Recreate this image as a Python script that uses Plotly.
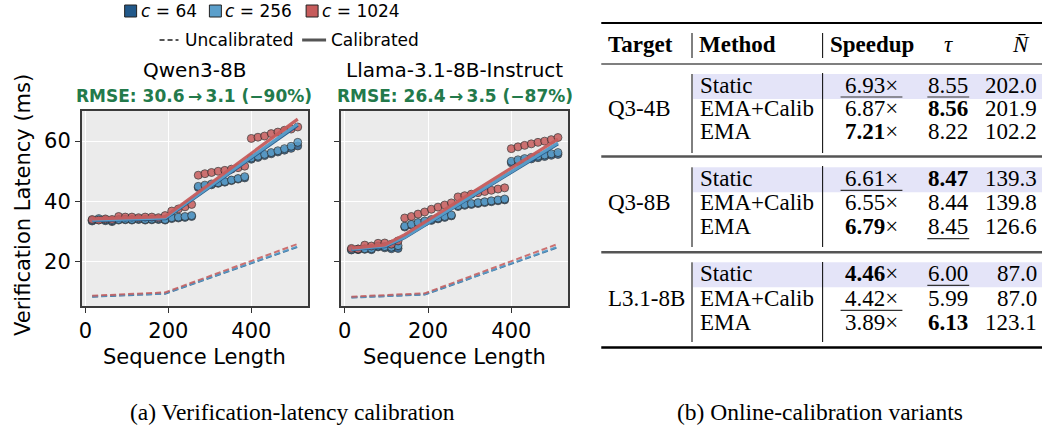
import plotly.graph_objects as go

# ---------------- data ----------------
seq_len = [16, 32, 48, 64, 80, 96, 112, 128, 144, 160, 176, 192, 208, 224, 240, 256,
           272, 288, 304, 320, 336, 352, 368, 384, 400, 416, 432, 448, 464, 480, 496, 512]

qwen_c64 = [33.5, 33.9, 33.6, 33.3, 33.8, 33.9, 33.8, 34.0, 33.8, 33.9, 34.0, 33.8, 34.3, 34.5, 34.7, 35.0,
            44.6, 45.0, 45.5, 46.0, 46.4, 46.9, 47.4, 47.8, 54.0, 54.6, 55.2, 55.8, 56.4, 57.0, 57.6, 58.4]
qwen_c256 = [33.7, 34.3, 33.9, 33.6, 34.0, 34.1, 34.0, 34.2, 34.0, 34.1, 34.2, 34.0, 34.6, 34.8, 35.0, 35.3,
             45.0, 45.4, 45.8, 46.2, 46.6, 47.1, 47.6, 48.2, 54.4, 55.0, 55.6, 56.2, 56.8, 57.5, 58.3, 59.6]
qwen_c1024 = [34.0, 33.8, 34.2, 34.0, 35.0, 34.8, 34.8, 34.6, 34.8, 34.8, 34.6, 35.3, 36.8, 37.5, 38.2, 39.0,
              48.7, 49.2, 49.6, 50.0, 50.3, 50.7, 51.2, 51.7, 60.9, 61.3, 61.7, 62.5, 63.0, 63.6, 64.0, 64.7]

llama_c64 = [23.9, 24.0, 24.1, 24.0, 24.9, 24.6, 24.3, 24.4, 31.5, 32.1, 32.7, 33.2, 33.7, 34.2, 34.7, 35.2,
             38.3, 38.7, 39.0, 39.3, 39.6, 39.9, 40.2, 40.5, 52.8, 53.3, 53.7, 54.1, 54.5, 54.9, 55.3, 55.6]
llama_c256 = [24.0, 24.2, 24.3, 24.3, 25.2, 25.0, 24.8, 25.3, 31.8, 32.4, 33.0, 33.5, 34.0, 34.5, 35.0, 35.5,
              38.6, 39.0, 39.3, 39.6, 39.9, 40.2, 40.5, 40.8, 53.3, 53.8, 54.2, 54.6, 55.0, 55.4, 55.8, 56.2]
llama_c1024 = [24.4, 24.2, 25.5, 25.2, 26.1, 26.2, 25.8, 26.9, 34.5, 35.0, 35.8, 36.5, 37.4, 38.1, 38.8, 39.5,
               41.5, 41.9, 42.4, 42.9, 43.3, 43.7, 44.1, 44.5, 57.5, 58.1, 58.6, 59.1, 59.6, 60.0, 60.5, 61.2]

# model curves (knots)
qwen_knots = [16, 192, 512]
qwen_cal = {64: [33.6, 34.3, 65.3], 256: [33.8, 34.5, 65.7], 1024: [34.2, 34.9, 67.3]}
qwen_uncal = {64: [8.4, 9.4, 24.9], 256: [8.5, 9.5, 25.1], 1024: [8.7, 9.8, 25.9]}
llama_cal_knots = [16, 96, 144, 512]
llama_cal = {64: [24.0, 25.0, 28.0, 59.1], 256: [24.2, 25.2, 28.2, 59.4], 1024: [24.5, 25.6, 29.0, 60.7]}
llama_uncal_knots = [16, 192, 512]
llama_uncal = {64: [8.1, 9.1, 24.8], 256: [8.2, 9.2, 25.0], 1024: [8.4, 9.5, 25.9]}

c_labels = [64, 256, 1024]
model_titles = ["Qwen3-8B", "Llama-3.1-8B-Instruct"]
rmse_titles = ["RMSE: 30.6\u2009\u2192\u20093.1 (\u221290%)", "RMSE: 26.4\u2009\u2192\u20093.5 (\u221287%)"]
x_ticks = [0, 200, 400]
y_ticks = [20, 40, 60]

# table
targets = ["Q3-4B", "Q3-8B", "L3.1-8B"]
methods = ["Static", "EMA+Calib", "EMA"]
speedup = [[6.93, 6.87, 7.21], [6.61, 6.55, 6.79], [4.46, 4.42, 3.89]]
tau = [[8.55, 8.56, 8.22], [8.47, 8.44, 8.45], [6.00, 5.99, 6.13]]
nbar = [[202.0, 201.9, 102.2], [139.3, 139.8, 126.6], [87.0, 87.0, 123.1]]

# ---------------- style ----------------
W, H = 1042, 433
colors = {64: "#22598a", 256: "#5b9fcb", 1024: "#c75c5c"}
GREEN = "#237a4b"
SANS = "DejaVu Sans"
SERIF = "Liberation Serif"


def px(x):
    return x / W


def py(y):
    return 1 - y / H


fig = go.Figure()

panels = [
    ("x", "y", [qwen_c64, qwen_c256, qwen_c1024], qwen_knots, qwen_cal, qwen_knots, qwen_uncal),
    ("x2", "y2", [llama_c64, llama_c256, llama_c1024], llama_cal_knots, llama_cal, llama_uncal_knots, llama_uncal),
]

for xa, ya, pts, ck, cal, uk, uncal in panels:
    for c, yv in zip(c_labels, pts):
        fig.add_trace(go.Scatter(
            x=seq_len, y=yv, mode="markers", xaxis=xa, yaxis=ya, showlegend=False,
            marker=dict(size=8, color=colors[c], opacity=0.85,
                        line=dict(color="#2b2b2b", width=0.8))))
    for c in c_labels:
        fig.add_trace(go.Scatter(
            x=uk, y=uncal[c], mode="lines", xaxis=xa, yaxis=ya, showlegend=False,
            line=dict(color=colors[c], width=2, dash="6px,3px"), opacity=0.85))
    for c in c_labels:
        fig.add_trace(go.Scatter(
            x=ck, y=cal[c], mode="lines", xaxis=xa, yaxis=ya, showlegend=False,
            line=dict(color=colors[c], width=3.2), opacity=0.95))

axis_common = dict(showgrid=True, gridcolor="white", gridwidth=1, zeroline=False,
                   showline=True, mirror=True, linecolor="#3a3a3a", linewidth=1.5,
                   ticks="outside", ticklen=5, tickwidth=1.2, tickcolor="#333",
                   tickfont=dict(family=SANS, size=21, color="black"))

fig.update_layout(
    width=W, height=H, autosize=False,
    margin=dict(l=0, r=0, t=0, b=0),
    paper_bgcolor="white", plot_bgcolor="#ebebeb",
    showlegend=False,
    xaxis=dict(domain=[px(79), px(306)], range=[-9, 537], tickvals=x_ticks, anchor="y", **axis_common),
    yaxis=dict(domain=[py(306), py(111)], range=[5.3, 70], tickvals=y_ticks, anchor="x", **axis_common),
    xaxis2=dict(domain=[px(339), px(567)], range=[-9, 537], tickvals=x_ticks, anchor="y2", **axis_common),
    yaxis2=dict(domain=[py(306), py(111)], range=[5.3, 70], tickvals=y_ticks, anchor="x2",
                showticklabels=False, **axis_common),
)

ann = []
shapes = []


def text(x, y, s, size, family=SANS, color="black", xanchor="center", angle=0):
    ann.append(dict(x=px(x), y=py(y), xref="paper", yref="paper", text=s, showarrow=False,
                    xanchor=xanchor, yanchor="middle", textangle=angle,
                    font=dict(family=family, size=size, color=color)))


def hline(x0, x1, y, w=1, color="black"):
    shapes.append(dict(type="line", xref="paper", yref="paper", x0=px(x0), x1=px(x1),
                       y0=py(y), y1=py(y), line=dict(color=color, width=w)))


def vline(x, y0, y1, w=1, color="black"):
    shapes.append(dict(type="line", xref="paper", yref="paper", x0=px(x), x1=px(x),
                       y0=py(y0), y1=py(y1), line=dict(color=color, width=w)))


def rect(x0, x1, y0, y1, fill, lc=None, lw=0):
    shapes.append(dict(type="rect", xref="paper", yref="paper", x0=px(x0), x1=px(x1),
                       y0=py(y1), y1=py(y0), fillcolor=fill,
                       line=dict(color=lc or fill, width=lw)))


# --- legend ---
for cx, tx, c in [(128, 136, 64), (213, 221, 256), (310, 318, 1024)]:
    rect(cx - 6, cx + 6, 5, 17, colors[c], "#222", 1)
    text(tx, 11, f"<i>c</i> = {c}", 17, xanchor="left")
shapes.append(dict(type="line", xref="paper", yref="paper", x0=px(157), x1=px(176), y0=py(40), y1=py(40),
                   line=dict(color="#555", width=2, dash="5px,3px")))
text(181, 40, "Uncalibrated", 17, xanchor="left")
hline(300, 324, 40, 3, "#555")
text(327, 40, "Calibrated", 17, xanchor="left")

# --- titles ---
text(192, 70, model_titles[0], 20)
text(453, 70, model_titles[1], 20)
text(192, 96, f"<b>{rmse_titles[0]}</b>", 17, color=GREEN)
text(453, 96, f"<b>{rmse_titles[1]}</b>", 17, color=GREEN)

# axis titles
text(192, 357, "Sequence Length", 21)
text(453, 357, "Sequence Length", 21)
text(20, 205, "Verification Latency (ms)", 21, angle=-90)

# captions
text(290, 412, "(a) Verification-latency calibration", 23.5, family=SERIF)
text(819, 412, "(b) Online-calibration variants", 23.5, family=SERIF)

# --- table ---
TS = 23
hline(600, 1042, 23, 2.2)
text(605, 45, "<b>Target</b>", TS, SERIF, xanchor="left")
text(696, 45, "<b>Method</b>", TS, SERIF, xanchor="left")
text(827, 45, "<b>Speedup</b>", TS, SERIF, xanchor="left")
text(948, 45, "<i>τ</i>", TS, SERIF)
text(1021, 45, "<i>N\u0304</i>", TS, SERIF)
vline(691, 33, 58)
vline(822, 33, 58)
hline(600, 1042, 64, 1.2)

group_rows = [[85, 108, 131.7], [178.3, 202.7, 226.7], [273.3, 298.3, 322.3]]
group_bounds = [(73, 153), (166, 247), (262, 342)]
sep_rules = [156.5, 252.3]


def rank_marks(vals):
    order = sorted(range(len(vals)), key=lambda i: -vals[i])
    return order[0], order[1]


for g in range(3):
    rows = group_rows[g]
    top, bot = group_bounds[g]
    rect(692, 1042, rows[0] - 11, rows[0] + 14, "#e4e4f8")
    vline(691, rows[0] - 11, bot)
    vline(822, top, bot)
    text(605, rows[1], targets[g], TS, SERIF, xanchor="left")
    sb, su = rank_marks(speedup[g])
    tb, tu = rank_marks(tau[g])
    for r in range(3):
        y = rows[r]
        text(697, y, methods[r], TS, SERIF, xanchor="left")
        s = f"{speedup[g][r]:.2f}"
        s = f"<b>{s}</b>×" if r == sb else f"{s}×"
        text(871, y, s, TS, SERIF)
        if r == su:
            hline(840, 902, y + 12, 1.2, "#333")
        t = f"{tau[g][r]:.2f}"
        t = f"<b>{t}</b>" if r == tb else t
        text(948, y, t, TS, SERIF)
        if r == tu:
            hline(927, 969, y + 12, 1.2, "#333")
        text(1039, y, f"{nbar[g][r]:.1f}", TS, SERIF, xanchor="right")
    if g < 2:
        hline(600, 1042, sep_rules[g], 2.6, "#555")
hline(600, 1042, 347.5, 2.4)

fig.update_layout(annotations=ann, shapes=shapes)
fig.write_html("out.html")
